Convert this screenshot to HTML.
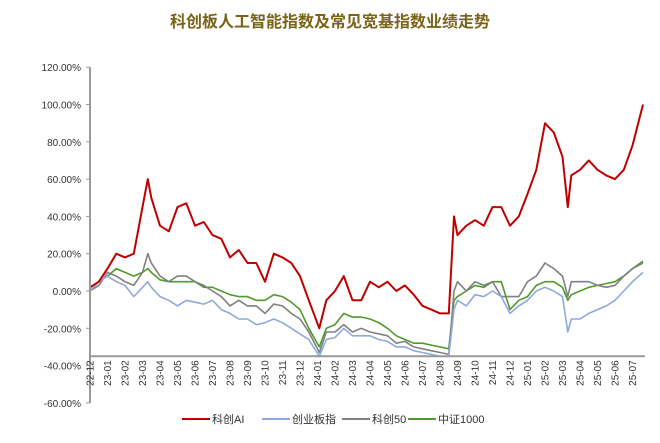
<!DOCTYPE html>
<html><head><meta charset="utf-8"><style>
body{margin:0;background:#fff;}
svg text{font-family:"Liberation Sans","Noto Sans CJK SC",sans-serif;}
</style></head><body>
<svg id="chart" width="660" height="438" xmlns="http://www.w3.org/2000/svg">
<text x="330" y="27" text-anchor="middle" font-size="16" font-weight="bold" fill="#7a6418">科创板人工智能指数及常见宽基指数业绩走势</text>
<g id="grid"></g><g id="series"></g><g id="axes"></g><g id="legend"></g>
</svg>
<script>
const months=["22-12","23-01","23-02","23-03","23-04","23-05","23-06","23-07","23-08","23-09","23-10","23-11","23-12","24-01","24-02","24-03","24-04","24-05","24-06","24-07","24-08","24-09","24-10","24-11","24-12","25-01","25-02","25-03","25-04","25-05","25-06","25-07"];
const yTicks=[120,100,80,60,40,20,0,-20,-40,-60];
const t=[0,0.5,1,1.5,2,2.5,3,3.3,3.5,4,4.5,5,5.5,6,6.5,7,7.5,8,8.5,9,9.5,10,10.5,11,11.5,12,12.5,13.1,13.5,14,14.5,15,15.5,16,16.5,17,17.5,18,18.5,19,19.5,20,20.5,20.8,21,21.5,22,22.5,23,23.5,24,24.5,25,25.5,26,26.5,27,27.3,27.5,28,28.5,29,29.5,30,30.5,31,31.6];
const ai=[2,5,12,20,18,20,45,60,50,35,32,45,47,35,37,30,28,18,22,15,15,5,20,18,15,8,-5,-20,-5,0,8,-5,-5,5,2,5,0,3,-2,-8,-10,-12,-12,40,30,35,38,35,45,45,35,40,52,65,90,85,72,45,62,65,70,65,62,60,65,78,100];
const cyb=[0,5,8,5,3,-3,2,5,2,-3,-5,-8,-5,-6,-7,-5,-10,-12,-15,-15,-18,-17,-15,-17,-20,-23,-26,-35,-26,-25,-20,-24,-24,-24,-26,-27,-30,-30,-32,-33,-34,-35,-35,-10,-5,-8,-2,-3,0,-3,-12,-8,-5,0,2,0,-3,-22,-15,-15,-12,-10,-8,-5,0,5,10];
const kc50=[0,3,10,8,5,3,10,20,15,8,5,8,8,5,3,0,-3,-8,-5,-8,-8,-12,-7,-8,-12,-15,-22,-33,-22,-22,-18,-22,-20,-22,-23,-24,-28,-27,-30,-31,-32,-33,-34,0,5,0,5,3,5,-3,-3,-3,5,8,15,12,8,-3,5,5,5,3,2,3,8,12,15];
const zz1000=[0,5,8,12,10,8,10,12,10,6,5,5,5,5,2,2,0,-2,-3,-3,-5,-5,-2,-3,-6,-10,-20,-30,-20,-18,-12,-14,-14,-15,-17,-20,-24,-26,-28,-28,-29,-30,-31,-5,-3,0,3,2,5,5,-10,-5,-3,3,5,5,2,-5,-2,0,2,3,4,5,8,12,16];
const seriesNames=["科创AI","创业板指","科创50","中证1000"];
const seriesColors=["#c00000","#8eaadb","#808080","#4f9a2c"];
const seriesData=[ai,cyb,kc50,zz1000];
const NS="http://www.w3.org/2000/svg";
const X=m=>90+m*17.5, Y=v=>291-v*37.3/20;
function mk(tag,attrs,parent){const e=document.createElementNS(NS,tag);for(const k in attrs)e.setAttribute(k,attrs[k]);parent.appendChild(e);return e;}
const axes=document.getElementById('axes'),ser=document.getElementById('series'),leg=document.getElementById('legend');
yTicks.forEach(v=>{
  const tx=mk('text',{x:81,y:Y(v)+4,'text-anchor':'end','font-size':10,fill:'#333'},axes);
  
  
  tx.textContent=v.toFixed(2)+'%';
  const tk=mk('line',{x1:86,x2:90,y1:Y(v),y2:Y(v),stroke:'#999'},axes);
  
  
});
const ya=mk('line',{x1:90,x2:90,y1:Y(120),y2:Y(-60),stroke:'#999','stroke-width':2},axes);


const xa=mk('line',{x1:90,x2:645,y1:Y(-35),y2:Y(-35),stroke:'#999','stroke-width':2},axes);


months.forEach((m,i)=>{
  const x=X(i),y=Y(-35)+4;
  const tx=mk('text',{x:x+3.5,y:y,'text-anchor':'end','font-size':10,fill:'#333',transform:`rotate(-90 ${x+3.5} ${y})`},axes);
  
  
  tx.textContent=m;
});
[3,2,1,0].forEach(s=>{
  const d=seriesData[s].map((v,i)=>(i?'L':'M')+X(t[i]).toFixed(1)+' '+Y(Math.max(v,-35)).toFixed(1)).join(' ');
  const p=mk('path',{d:d,fill:'none',stroke:seriesColors[s],'stroke-width':s==0?2:1.6,'stroke-linejoin':'round'},ser);
  
  
});
const lx=[182,262,342,408];
seriesNames.forEach((n,i)=>{
  const g=mk('g',{},leg);
  
  
  mk('line',{x1:lx[i],x2:lx[i]+28,y1:419,y2:419,stroke:seriesColors[i],'stroke-width':2},g);
  const tx=mk('text',{x:lx[i]+30,y:423,'font-size':11,fill:'#333'},g);
  tx.textContent=n;
});
</script>
</body></html>
